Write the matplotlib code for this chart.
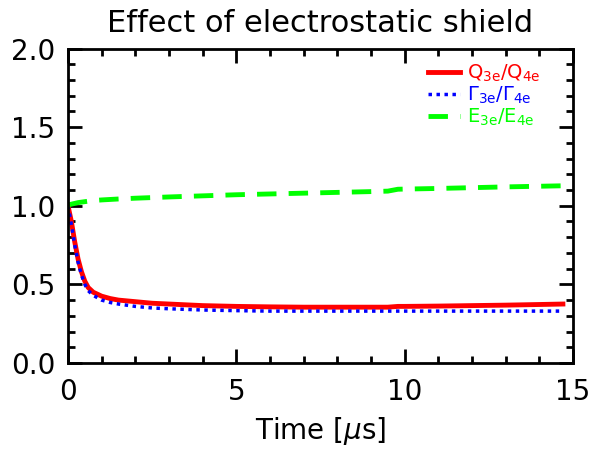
import matplotlib.pyplot as plt
from matplotlib.ticker import MultipleLocator

# time in microseconds
t = [0, 0.1, 0.2, 0.3, 0.4, 0.5, 0.6, 0.75, 1.0, 1.25, 1.5, 2, 2.5, 3, 4, 5,
     6, 7, 8, 9, 9.5, 9.8, 10, 11, 12, 13, 14, 14.7]
q_ratio = [1.0, 0.90, 0.77, 0.66, 0.58, 0.52, 0.48, 0.45, 0.425, 0.41, 0.40, 0.39,
           0.38, 0.375, 0.365, 0.36, 0.357, 0.355, 0.355, 0.355, 0.355, 0.36, 0.36,
           0.362, 0.365, 0.368, 0.372, 0.375]
gamma_ratio = [1.0, 0.88, 0.75, 0.64, 0.56, 0.50, 0.46, 0.43, 0.40, 0.385, 0.375,
               0.36, 0.35, 0.345, 0.337, 0.333, 0.33, 0.33, 0.33, 0.33, 0.33, 0.33,
               0.33, 0.33, 0.33, 0.33, 0.33, 0.33]
e_ratio = [1.005, 1.01, 1.015, 1.02, 1.023, 1.026, 1.029, 1.033, 1.037, 1.04, 1.043,
           1.048, 1.052, 1.056, 1.063, 1.07, 1.075, 1.08, 1.085, 1.09, 1.093, 1.105,
           1.106, 1.11, 1.115, 1.12, 1.124, 1.127]

fig = plt.figure(figsize=(5.93, 4.55), dpi=100)
ax = fig.add_axes([68/593, 1 - 363/455, 505/593, 314.5/455])

ax.plot(t, q_ratio, color='red', lw=3.5, label=r'$\mathregular{Q_{3e}/Q_{4e}}$')
ax.plot(t, gamma_ratio, color='blue', lw=2.5, linestyle=(0, (1, 1.3)),
        label=r'$\mathregular{\Gamma_{3e}/\Gamma_{4e}}$')
ax.plot(t, e_ratio, color='#00ff00', lw=3.5, linestyle=(0, (4, 2.5)),
        label=r'$\mathregular{E_{3e}/E_{4e}}$')

ax.set_xlim(0, 15)
ax.set_ylim(0, 2.0)
ax.xaxis.set_major_locator(MultipleLocator(5))
ax.xaxis.set_minor_locator(MultipleLocator(1))
ax.yaxis.set_major_locator(MultipleLocator(0.5))
ax.yaxis.set_minor_locator(MultipleLocator(0.1))
ax.yaxis.set_major_formatter(plt.FormatStrFormatter('%.1f'))
ax.tick_params(which='both', direction='in', top=True, right=True, width=2,
               labelsize=20)
ax.tick_params(axis='x', which='major', pad=11)
ax.tick_params(axis='y', which='major', pad=9)
ax.tick_params(which='major', length=10)
ax.tick_params(which='minor', length=5)
for s in ax.spines.values():
    s.set_linewidth(2)

ax.set_xlabel(r'Time [$\mu$s]', fontsize=20, labelpad=6)
ax.set_title('Effect of electrostatic shield', fontsize=22, pad=12)

ax.legend(loc='upper right', bbox_to_anchor=(0.935, 0.955), frameon=False,
          fontsize=14, labelcolor='linecolor', handlelength=1.65,
          handletextpad=0.35, labelspacing=0.05, borderaxespad=0, borderpad=0)

fig.savefig('out.png')
